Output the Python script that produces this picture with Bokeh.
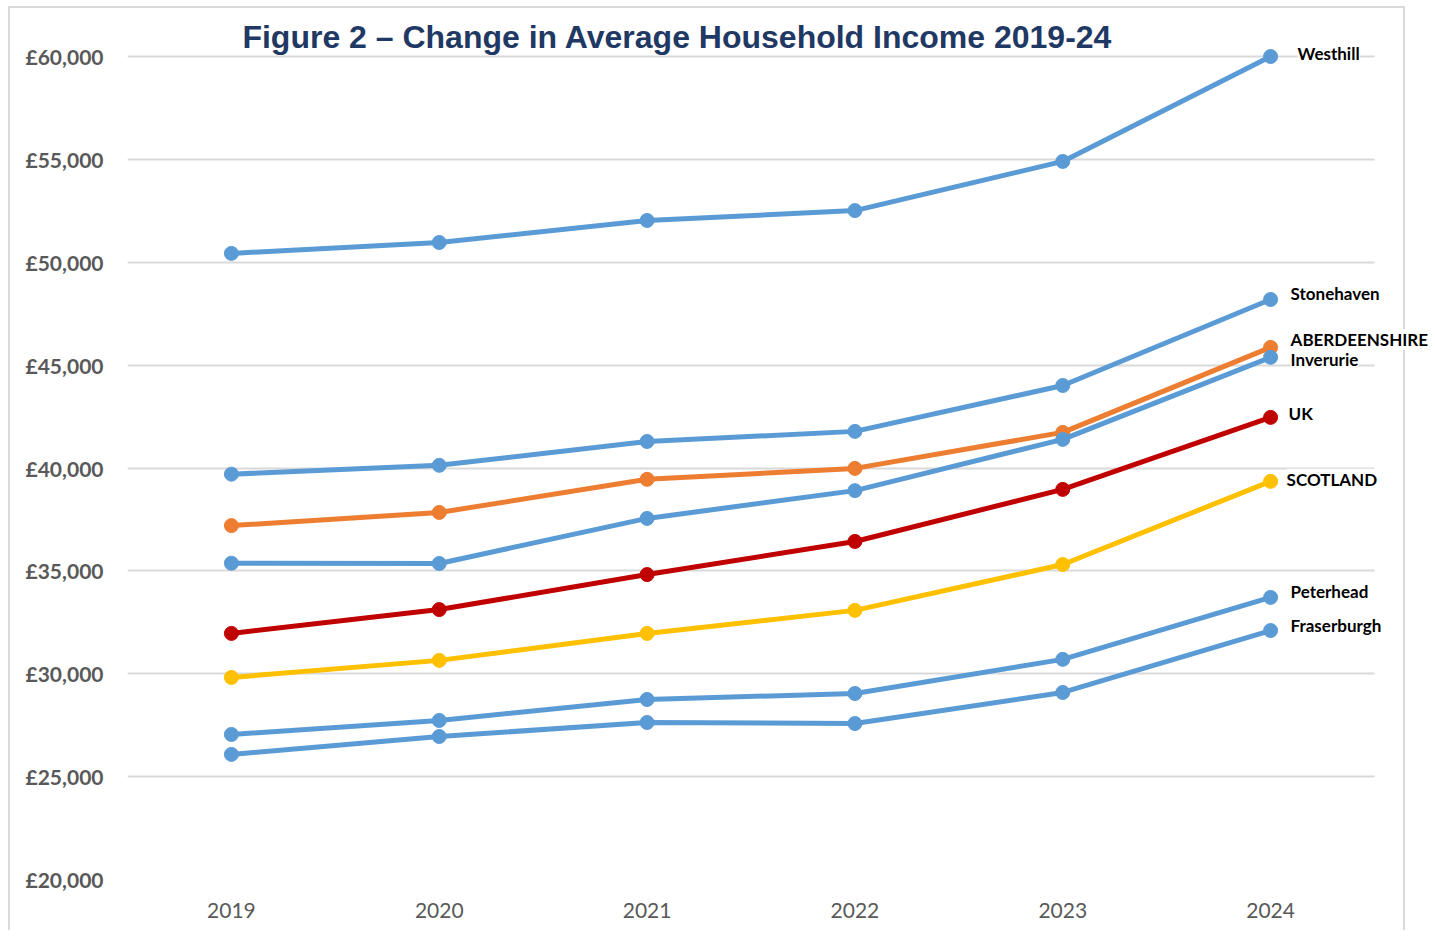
from bokeh.plotting import figure
from bokeh.models import ColumnDataSource, LabelSet, Label, FixedTicker, Range1d
from bokeh.embed import file_html
from bokeh.resources import INLINE
from bokeh.core.properties import value

# ---- data ----
years = [2019, 2020, 2021, 2022, 2023, 2024]
year_labels = ["2019", "2020", "2021", "2022", "2023", "2024"]

westhill = [50430, 50960, 52030, 52510, 54900, 60000]
stonehaven = [39700, 40130, 41290, 41780, 44010, 48190]
aberdeenshire = [37200, 37840, 39450, 39980, 41730, 45860]
inverurie = [35370, 35360, 37550, 38900, 41390, 45380]
uk = [31960, 33120, 34820, 36430, 38960, 42460]
scotland = [29820, 30650, 31960, 33080, 35310, 39350]
peterhead = [27050, 27730, 28750, 29040, 30700, 33710]
fraserburgh = [26080, 26950, 27630, 27580, 29090, 32100]

series_names = ["Westhill", "Stonehaven", "ABERDEENSHIRE", "Inverurie", "UK",
                "SCOTLAND", "Peterhead", "Fraserburgh"]
series_values = [westhill, stonehaven, aberdeenshire, inverurie, uk,
                 scotland, peterhead, fraserburgh]

y_ticks = [20000, 25000, 30000, 35000, 40000, 45000, 50000, 55000, 60000]
y_tick_labels = ["£20,000", "£25,000", "£30,000", "£35,000", "£40,000",
                 "£45,000", "£50,000", "£55,000", "£60,000"]

title_text = "Figure 2 \u2013 Change in Average Household Income 2019-24"

# ---- styles / layout ----
BLUE = "#5B9BD5"
series_colors = [BLUE, BLUE, "#ED7D31", BLUE, "#C00000", "#FFC000", BLUE, BLUE]
label_dx = [27, 20, 20, 20, 18, 16, 20, 20]
label_dy = [3, 6, 8, -2, 4, 2, 6, 5]

X0, X1 = 2018.5, 2024.5          # category band of the plot area
Y0, Y1 = 20000, 60000
AREA_W, AREA_H = 1247, 823       # plot-area size (px) spanning X0..X1, Y0..Y1
FRAME_W, FRAME_H = 1307, 879     # frame enlarged right/up for labels & title
px_x = (X1 - X0) / AREA_W
px_y = (Y1 - Y0) / AREA_H

p = figure(width=1434, height=930, frame_width=FRAME_W, frame_height=FRAME_H,
           min_border_left=127, min_border_right=0, min_border_top=0,
           min_border_bottom=51,
           x_range=Range1d(X0, X0 + FRAME_W * px_x),
           y_range=Range1d(Y0, Y0 + FRAME_H * px_y),
           output_backend="svg", toolbar_location=None)
p.outline_line_color = None
p.background_fill_color = None
p.border_fill_color = None

# outer chart border, drawn as background of the host element
p.styles = {
    "background-image": "linear-gradient(#D9D9D9,#D9D9D9),"
                        "linear-gradient(#D9D9D9,#D9D9D9),"
                        "linear-gradient(#D9D9D9,#D9D9D9)",
    "background-size": "2px 100%, 1397px 2px, 2px 100%",
    "background-position": "8px 6px, 8px 6px, 1403px 6px",
    "background-repeat": "no-repeat",
}

p.xgrid.grid_line_color = None
p.ygrid.grid_line_color = "#D9D9D9"
p.ygrid.grid_line_width = 2
p.ygrid.cross_bounds = (X0, X1)

p.yaxis.ticker = FixedTicker(ticks=y_ticks)
p.yaxis.major_label_overrides = dict(zip(y_ticks, y_tick_labels))
p.yaxis.axis_line_color = None
p.yaxis.major_tick_line_color = None
p.yaxis.minor_tick_line_color = None
p.yaxis.major_label_standoff = 18
p.yaxis.major_label_text_font = "Lato"
p.yaxis.major_label_text_font_style = "bold"
p.yaxis.major_label_text_font_size = "21px"
p.yaxis.major_label_text_color = "#595959"

p.xaxis.ticker = FixedTicker(ticks=years)
p.xaxis.major_label_overrides = dict(zip(years, year_labels))
p.xaxis.axis_line_color = None
p.xaxis.major_tick_line_color = None
p.xaxis.minor_tick_line_color = None
p.xaxis.major_label_standoff = 17
p.xaxis.major_label_text_font = "Lato"
p.xaxis.major_label_text_font_size = "21px"
p.xaxis.major_label_text_color = "#595959"

for name, vals, col in zip(series_names, series_values, series_colors):
    p.line(years, vals, line_color=col, line_width=5)
    p.scatter(years, vals, size=14, fill_color=col, line_color=col)

lab_src = ColumnDataSource(dict(
    x=[years[-1]] * len(series_names),
    y=[v[-1] for v in series_values],
    text=series_names,
    dx=label_dx,
    dy=label_dy,
))
labels = LabelSet(x="x", y="y", text="text", source=lab_src,
                  x_offset="dx", y_offset="dy",
                  text_align="left", text_baseline="middle",
                  text_font=value("Lato"), text_font_style="bold",
                  text_font_size="17px", text_color="black",
                  background_fill_color="white")
p.add_layout(labels)

title = Label(x=550, y=FRAME_H - 36, x_units="screen", y_units="screen",
              text=title_text, text_align="center", text_baseline="middle",
              text_font="Liberation Sans", text_font_style="bold",
              text_font_size="32px", text_color="#1F3864")
p.add_layout(title)

open("out.html", "w").write(file_html(p, INLINE))
